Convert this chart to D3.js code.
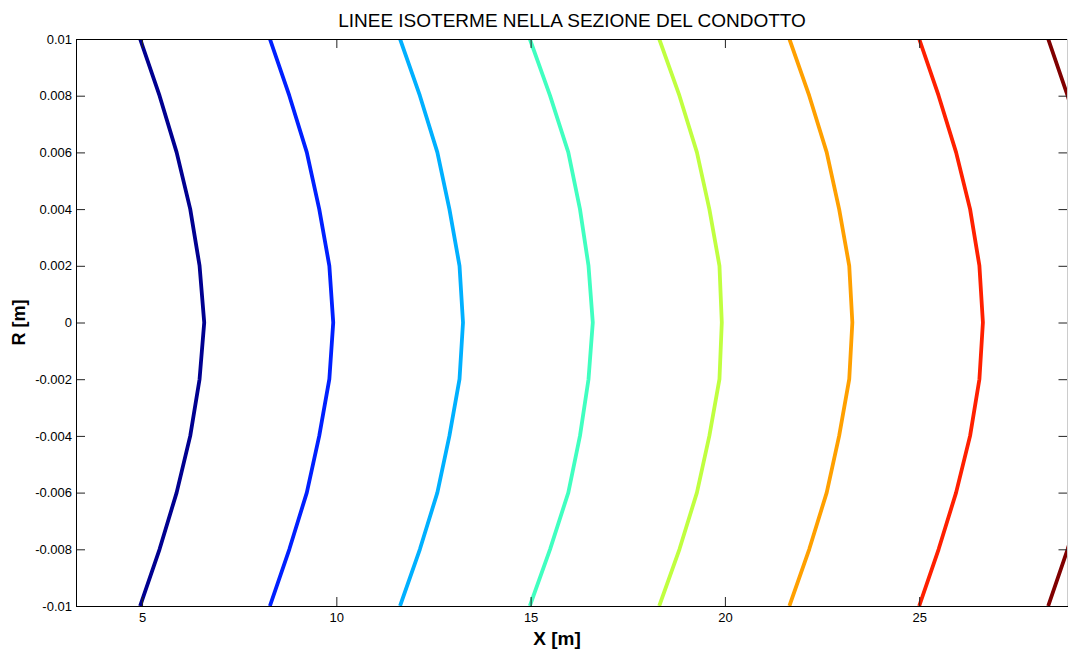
<!DOCTYPE html>
<html>
<head>
<meta charset="utf-8">
<script src="https://cdn.jsdelivr.net/npm/d3@7"></script>
<style>
  body { margin: 0; background: #fff; }
  svg { font-family: "Liberation Sans", Arial, sans-serif; }
  .tick line { stroke: #222; }
  .tick text { fill: #000; font-size: 13px; }
</style>
</head>
<body>
<script>
// R positions of the contour points (grid in the section)
const rLevels = [0.01, 0.008, 0.006, 0.004, 0.002, 0, -0.002, -0.004, -0.006, -0.008, -0.01];

// X position of each isotherm at every R level
const iso1 = [4.95, 5.45, 5.89, 6.24, 6.48, 6.60, 6.48, 6.24, 5.89, 5.45, 4.95];
const iso2 = [8.29, 8.79, 9.24, 9.56, 9.82, 9.92, 9.82, 9.56, 9.24, 8.79, 8.29];
const iso3 = [11.64, 12.15, 12.60, 12.91, 13.17, 13.26, 13.17, 12.91, 12.60, 12.15, 11.64];
const iso4 = [14.98, 15.50, 15.97, 16.27, 16.49, 16.60, 16.49, 16.27, 15.97, 15.50, 14.98];
const iso5 = [18.31, 18.83, 19.28, 19.60, 19.86, 19.92, 19.86, 19.60, 19.28, 18.83, 18.31];
const iso6 = [21.66, 22.17, 22.62, 22.94, 23.20, 23.28, 23.20, 22.94, 22.62, 22.17, 21.66];
const iso7 = [25.00, 25.50, 25.95, 26.31, 26.55, 26.64, 26.55, 26.31, 25.95, 25.50, 25.00];
const iso8 = [28.32, 28.82, 29.27, 29.61, 29.85, 29.95, 29.85, 29.61, 29.27, 28.82, 28.32];

const isoColors = ["#000090", "#0020ff", "#00b0ff", "#40ffc0", "#c0ff40", "#ffa000", "#ff2000", "#800000"];

const xTicks = [5, 10, 15, 20, 25];
const yTicks = [0.01, 0.008, 0.006, 0.004, 0.002, 0, -0.002, -0.004, -0.006, -0.008, -0.01];

const width = 1069, height = 651;
const margin = {left: 76, right: 1, top: 39, bottom: 45};

const svg = d3.select("body").append("svg")
  .attr("width", width)
  .attr("height", height);

const x = d3.scaleLinear().domain([3.3, 28.83]).range([margin.left, width - margin.right]);
const y = d3.scaleLinear().domain([-0.01, 0.01]).range([height - margin.bottom, margin.top]);

svg.append("clipPath").attr("id", "plotclip")
  .append("rect")
  .attr("x", margin.left).attr("y", margin.top)
  .attr("width", x.range()[1] - x.range()[0])
  .attr("height", y.range()[0] - y.range()[1]);

// isotherm lines
const lines = [iso1, iso2, iso3, iso4, iso5, iso6, iso7, iso8];
const line = d3.line()
  .x(d => x(d[0]))
  .y(d => y(d[1]));

svg.append("g").attr("clip-path", "url(#plotclip)")
  .selectAll("path")
  .data(lines)
  .join("path")
  .attr("d", xs => line(xs.map((v, i) => [v, rLevels[i]])))
  .attr("fill", "none")
  .attr("stroke", (d, i) => isoColors[i])
  .attr("stroke-width", 3.8)
  .attr("stroke-linejoin", "round");

// axes, ticks pointing inside like matlab
function yfmt(d)
{
  if (Math.abs(d) < 1e-12) return "0";
  return String(+d.toFixed(3)).replace("\u2212", "-");
}

svg.append("g")
  .attr("transform", "translate(0," + y.range()[0] + ")")
  .call(d3.axisBottom(x).tickValues(xTicks).tickSize(-9).tickPadding(7).tickFormat(d3.format("d")));

svg.append("g")
  .attr("transform", "translate(" + x.range()[0] + ",0)")
  .call(d3.axisLeft(y).tickValues(yTicks).tickSize(-9).tickPadding(4).tickFormat(yfmt));

svg.append("g")
  .attr("transform", "translate(0," + y.range()[1] + ")")
  .call(d3.axisTop(x).tickValues(xTicks).tickSize(-9).tickFormat(""));

svg.append("g")
  .attr("transform", "translate(" + (x.range()[1] - 0.5) + ",0)")
  .call(d3.axisRight(y).tickValues(yTicks).tickSize(-9).tickFormat(""));

svg.selectAll(".domain").remove();

// box
svg.append("line")
  .attr("x1", x.range()[0]).attr("x2", x.range()[1])
  .attr("y1", y.range()[1] + 0.5).attr("y2", y.range()[1] + 0.5)
  .attr("stroke", "#000");
svg.append("line")
  .attr("x1", x.range()[0]).attr("x2", x.range()[1])
  .attr("y1", y.range()[0] + 0.5).attr("y2", y.range()[0] + 0.5)
  .attr("stroke", "#000");
svg.append("line")
  .attr("x1", x.range()[0] + 0.5).attr("x2", x.range()[0] + 0.5)
  .attr("y1", y.range()[1]).attr("y2", y.range()[0])
  .attr("stroke", "#000");
svg.append("line")
  .attr("x1", x.range()[1] - 0.5).attr("x2", x.range()[1] - 0.5)
  .attr("y1", y.range()[1]).attr("y2", y.range()[0])
  .attr("stroke", "#ccc");

// title and labels
svg.append("text")
  .attr("x", (x.range()[0] + x.range()[1]) / 2)
  .attr("y", 27)
  .attr("text-anchor", "middle")
  .style("font-size", "19px")
  .text("LINEE ISOTERME NELLA SEZIONE DEL CONDOTTO");

svg.append("text")
  .attr("x", 557)
  .attr("y", 645)
  .attr("text-anchor", "middle")
  .style("font-size", "19px")
  .style("font-weight", "bold")
  .text("X [m]");

svg.append("text")
  .attr("transform", "translate(25," + y(0) + ") rotate(-90)")
  .attr("text-anchor", "middle")
  .style("font-size", "18px")
  .style("font-weight", "bold")
  .text("R [m]");
</script>
</body>
</html>
